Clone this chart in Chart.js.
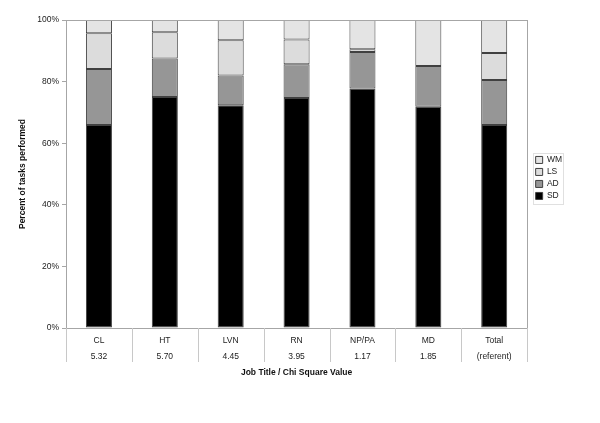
<!DOCTYPE html>
<html>
<head>
<meta charset="utf-8">
<script src="https://cdn.jsdelivr.net/npm/chart.js@4/dist/chart.umd.min.js"></script>
<style>
  html, body { margin: 0; padding: 0; background: #fff; }
  #wrap { width: 600px; height: 423px; }
</style>
</head>
<body>
<div id="wrap"><canvas id="chart" width="600" height="423"></canvas></div>
<script>
// job titles and chi square values (two-line x labels)
var jobs = ['CL', 'HT', 'LVN', 'RN', 'NP/PA', 'MD', 'Total'];
var chiValues = ['5.32', '5.70', '4.45', '3.95', '1.17', '1.85', '(referent)'];

// percent of tasks performed
var sd = [65.9, 75.0, 72.3, 74.7, 77.8, 71.8, 65.9];
var ad = [18.2, 12.5, 9.7, 10.9, 11.8, 13.3, 14.6];
var ls = [11.6, 8.5, 11.4, 8.1, 0.9, 0, 8.8];
var wm = [4.3, 4.0, 6.6, 6.3, 9.5, 14.9, 10.7];

var yTicks = [0, 20, 40, 60, 80, 100];

var labels = [];
for (var i = 0; i < jobs.length; i++) {
  labels.push([jobs[i], chiValues[i]]);
}

var fontFamily = '"Liberation Sans", Arial, sans-serif';
var fontSize = 8.5;

// frame around the plot, separator lines under the axis, box round the legend
var decorations = {
  id: 'decorations',
  afterLayout: function (chart) {
    // leave a small gap between the plot and the legend
    var lg = chart.legend;
    var shift = chart.chartArea.right + 5 - lg.left;
    lg.left += shift;
    lg.right += shift;
  },
  afterDraw: function (chart) {
    var ctx = chart.ctx;
    var a = chart.chartArea;
    ctx.save();
    ctx.strokeStyle = '#a6a6a6';
    ctx.lineWidth = 1;
    ctx.strokeRect(Math.round(a.left) + 0.5, Math.round(a.top) + 0.5,
      Math.round(a.right - a.left), Math.round(a.bottom - a.top));

    var step = (a.right - a.left) / jobs.length;
    ctx.strokeStyle = '#c8c8c8';
    for (var i = 0; i <= jobs.length; i++) {
      var px = Math.round(a.left + step * i) + 0.5;
      ctx.beginPath();
      ctx.moveTo(px, a.bottom);
      ctx.lineTo(px, a.bottom + 34);
      ctx.stroke();
    }

    var boxes = chart.legend.legendHitBoxes;
    if (boxes && boxes.length) {
      var l = boxes[0].left - 3, t = boxes[0].top - 3;
      var r = l, b = t;
      boxes.forEach(function (h) {
        r = Math.max(r, h.left + h.width + 1);
        b = Math.max(b, h.top + h.height + 3);
      });
      ctx.strokeStyle = '#e0e0e0';
      ctx.strokeRect(Math.round(l) + 0.5, Math.round(t) + 0.5, Math.round(r - l), Math.round(b - t));
    }
    ctx.restore();
  }
};

function makeSet(name, values, color) {
  return {
    label: name,
    data: values,
    backgroundColor: color,
    borderColor: '#404040',
    borderWidth: 1,
    borderSkipped: false,
    barPercentage: 0.395,
    categoryPercentage: 1.0
  };
}

var ctx = document.getElementById('chart').getContext('2d');
var chart = new Chart(ctx, {
  type: 'bar',
  data: {
    labels: labels,
    datasets: [
      makeSet('SD', sd, '#000000'),
      makeSet('AD', ad, '#969696'),
      makeSet('LS', ls, '#dcdcdc'),
      makeSet('WM', wm, '#e4e4e4')
    ]
  },
  options: {
    responsive: false,
    animation: false,
    layout: { padding: { top: 20, left: 18, right: 33, bottom: 43 } },
    plugins: {
      legend: {
        position: 'right',
        align: 'start',
        reverse: true,
        title: {
          display: true,
          text: ' ',
          padding: { top: 0, bottom: 122 },
          font: { family: fontFamily, size: fontSize }
        },
        labels: {
          boxWidth: 7,
          boxHeight: 7,
          padding: 3.5,
          color: '#222',
          font: { family: fontFamily, size: fontSize }
        }
      },
      tooltip: { enabled: false }
    },
    scales: {
      x: {
        stacked: true,
        grid: { display: false },
        border: { display: false },
        ticks: {
          color: '#222',
          padding: -3,
          maxRotation: 0,
          font: { family: fontFamily, size: fontSize, lineHeight: 1.88 }
        },
        title: {
          display: true,
          text: 'Job Title / Chi Square Value',
          color: '#111',
          padding: { top: 2, bottom: 2 },
          font: { family: fontFamily, size: fontSize, weight: 'bold' }
        },
        afterFit: function (scale) { scale.height = 52; }
      },
      y: {
        stacked: true,
        min: 0,
        max: 100,
        afterBuildTicks: function (scale) {
          scale.ticks = yTicks.map(function (v) { return { value: v }; });
        },
        grid: {
          drawOnChartArea: false,
          tickLength: 4,
          color: '#a6a6a6'
        },
        border: { display: false },
        ticks: {
          color: '#222',
          padding: 3,
          font: { family: fontFamily, size: fontSize },
          callback: function (v) { return v + '%'; }
        },
        title: {
          display: true,
          text: 'Percent of tasks performed',
          color: '#111',
          padding: { top: 0, bottom: 0 },
          font: { family: fontFamily, size: fontSize, weight: 'bold' }
        },
        afterFit: function (scale) { scale.width = 48; }
      }
    }
  },
  plugins: [decorations]
});
</script>
</body>
</html>
